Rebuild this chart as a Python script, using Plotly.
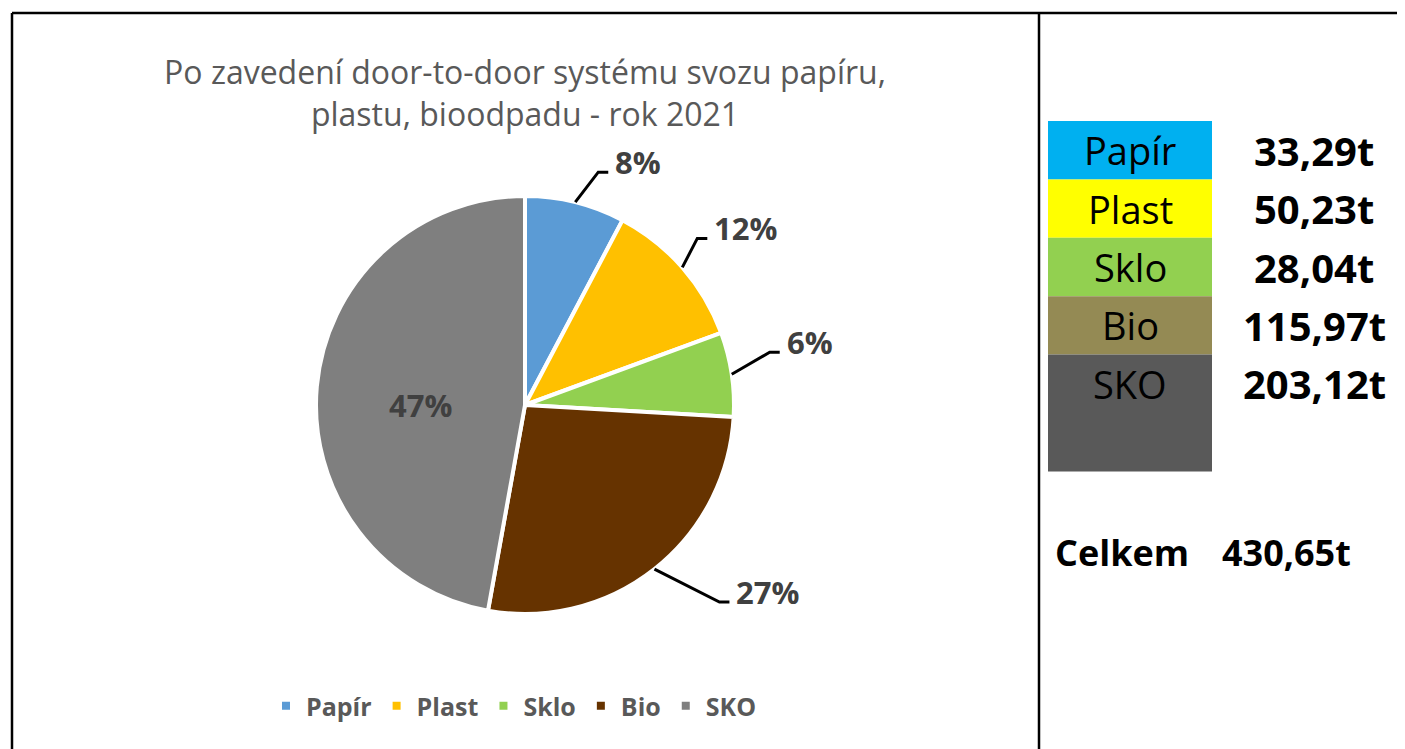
import math
import plotly.graph_objects as go

# ---- data ----
categories = ["Papír", "Plast", "Sklo", "Bio", "SKO"]
tonnes = [33.29, 50.23, 28.04, 115.97, 203.12]
tonnes_text = ["33,29t", "50,23t", "28,04t", "115,97t", "203,12t"]
pct_labels = ["8%", "12%", "6%", "27%", "47%"]
total_label = "Celkem"
total_text = "430,65t"
title_text = "Po zavedení door-to-door systému svozu papíru,<br>plastu, bioodpadu - rok 2021"

# ---- styles ----
pie_colors = ["#5B9BD5", "#FFC000", "#92D050", "#663300", "#7F7F7F"]
table_colors = ["#00B0F0", "#FFFF00", "#92D050", "#948A54", "#595959"]
FONT = "Open Sans"
PAGE_OFF = 8  # default page body margin
W, H = 1405 - PAGE_OFF, 749 - PAGE_OFF

def fx(px):
    return (px - PAGE_OFF) / W

def fy(py):
    return 1 - (py - PAGE_OFF) / H

# pie geometry (window pixels)
CX, CY, R = 525, 405, 209
# label elbow offsets from slice edge (pixels), None = inside label
label_offsets = [(23, -30), (15, -29), (38, -22), (65, 33), None]
row_spans = [1, 1, 1, 1, 2]

fig = go.Figure()
fig.add_trace(go.Pie(
    labels=categories, values=tonnes, sort=False, direction="clockwise", rotation=0,
    marker=dict(colors=pie_colors, line=dict(color="white", width=4)),
    textinfo="none", hoverinfo="label+value+percent",
    domain=dict(x=[fx(CX - R), fx(CX + R)], y=[fy(CY + R), fy(CY - R)]),
))

shapes = []
annotations = []
total = sum(tonnes)
cum = 0.0
for i, v in enumerate(tonnes):
    frac = v / total
    mid = (cum + frac / 2) * 2 * math.pi
    cum += frac
    s, c = math.sin(mid), math.cos(mid)
    off = label_offsets[i]
    if off is None:
        px, py = CX + 0.5 * R * s, CY - 0.5 * R * c + 9
        annotations.append(dict(x=fx(px), y=fy(py), xref="paper", yref="paper", text=pct_labels[i],
                                showarrow=False, xanchor="center", yanchor="middle",
                                font=dict(family=FONT, size=31, color="#404040", weight="bold")))
        continue
    ex, ey = CX + R * s, CY - R * c
    bx, by = ex + off[0], ey + off[1]
    sx = bx + 10
    shapes.append(dict(type="path", xref="paper", yref="paper",
                       path=f"M {fx(ex)},{fy(ey)} L {fx(bx)},{fy(by)} L {fx(sx)},{fy(by)}",
                       line=dict(color="black", width=3)))
    annotations.append(dict(x=fx(sx + 5), y=fy(by - 10), xref="paper", yref="paper", text=pct_labels[i],
                            showarrow=False, xanchor="left", yanchor="middle",
                            font=dict(family=FONT, size=31, color="#404040", weight="bold")))

# borders
for (x0, y0, x1, y1) in [(12, 13, 1405, 13), (12, 13, 12, 749), (1039, 13, 1039, 749)]:
    shapes.append(dict(type="line", xref="paper", yref="paper", x0=fx(x0), y0=fy(y0), x1=fx(x1), y1=fy(y1),
                       line=dict(color="black", width=2.5)))

# side table
top, row_h = 121, 58.4
y = top
for i, name in enumerate(categories):
    h = row_h * row_spans[i]
    shapes.append(dict(type="rect", xref="paper", yref="paper", x0=fx(1048), x1=fx(1212),
                       y0=fy(y + h), y1=fy(y), fillcolor=table_colors[i], line=dict(width=0), layer="below"))
    yc = y + row_h / 2
    annotations.append(dict(x=fx(1130), y=fy(yc), xref="paper", yref="paper", text=name, showarrow=False,
                            xanchor="center", yanchor="middle", font=dict(family=FONT, size=38, color="black")))
    annotations.append(dict(x=fx(1314), y=fy(yc), xref="paper", yref="paper", text=tonnes_text[i], showarrow=False,
                            xanchor="center", yanchor="middle",
                            font=dict(family=FONT, size=40, color="black", weight="bold")))
    y += h

annotations.append(dict(x=fx(1122), y=fy(552), xref="paper", yref="paper", text=total_label, showarrow=False,
                        xanchor="center", yanchor="middle", font=dict(family=FONT, size=36, color="black", weight="bold")))
annotations.append(dict(x=fx(1286), y=fy(552), xref="paper", yref="paper", text=total_text, showarrow=False,
                        xanchor="center", yanchor="middle", font=dict(family=FONT, size=36, color="black", weight="bold")))

fig.update_layout(
    width=W, height=H, autosize=False,
    margin=dict(l=0, r=0, t=0, b=0),
    paper_bgcolor="white", plot_bgcolor="white",
    title=dict(text=title_text, x=fx(525), xanchor="center", y=fy(84), yanchor="middle",
               font=dict(family=FONT, size=32, color="#595959")),
    legend=dict(orientation="h", x=fx(514), xanchor="center", y=fy(706), yanchor="middle",
                font=dict(family=FONT, size=25, color="#595959", weight="bold"), traceorder="normal"),
    shapes=shapes, annotations=annotations,
)

fig.write_html("out.html")
